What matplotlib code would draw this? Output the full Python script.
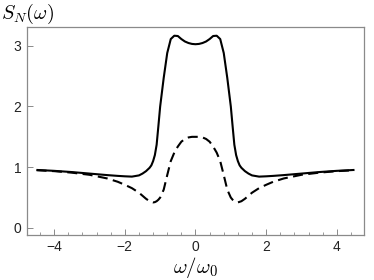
import matplotlib
matplotlib.use("Agg")
import matplotlib.pyplot as plt
from matplotlib.ticker import MultipleLocator


# values
omega = [-4.5, -4.0, -3.5, -3.0, -2.5, -2.2, -2.0, -1.8, -1.6, -1.5, -1.4, -1.3,
         -1.25, -1.2, -1.15, -1.1, -1.05, -1.0, -0.9, -0.8, -0.7, -0.6, -0.5,
         -0.4, -0.3, -0.2, -0.1, 0.0, 0.1, 0.2, 0.3, 0.4, 0.5, 0.6, 0.7, 0.8,
         0.9, 1.0, 1.05, 1.1, 1.15, 1.2, 1.25, 1.3, 1.4, 1.5, 1.6, 1.8, 2.0,
         2.2, 2.5, 3.0, 3.5, 4.0, 4.5]

s_solid = [0.955, 0.94, 0.92, 0.895, 0.87, 0.857, 0.85, 0.845, 0.865, 0.895,
           0.935, 0.99, 1.03, 1.10, 1.20, 1.37, 1.68, 2.0, 2.47, 2.88, 3.11,
           3.165, 3.16, 3.11, 3.07, 3.045, 3.03, 3.025, 3.03, 3.045, 3.07,
           3.11, 3.16, 3.165, 3.11, 2.88, 2.47, 2.0, 1.68, 1.37, 1.20, 1.10,
           1.03, 0.99, 0.935, 0.895, 0.865, 0.845, 0.85, 0.857, 0.87, 0.895,
           0.92, 0.94, 0.955]

s_dashed = [0.95, 0.935, 0.91, 0.875, 0.815, 0.76, 0.71, 0.655, 0.58, 0.53,
            0.48, 0.44, 0.43, 0.42, 0.425, 0.44, 0.465, 0.5, 0.63, 0.87, 1.1,
            1.24, 1.34, 1.42, 1.465, 1.49, 1.5, 1.5, 1.5, 1.49, 1.465, 1.42,
            1.34, 1.24, 1.1, 0.87, 0.63, 0.5, 0.465, 0.44, 0.425, 0.42, 0.43,
            0.44, 0.48, 0.53, 0.58, 0.655, 0.71, 0.76, 0.815, 0.875, 0.91,
            0.935, 0.95]

x_ticks = [-4, -2, 0, 2, 4]
y_ticks = [0, 1, 2, 3]

plt.rcParams["font.family"] = ["Liberation Sans", "DejaVu Sans"]
plt.rcParams["mathtext.fontset"] = "cm"

fig = plt.figure(figsize=(3.74, 2.80), dpi=100)
ax = fig.add_axes([0.0722, 0.161, 0.901, 0.7429])

ax.plot(omega, s_solid, color="black", lw=1.5, solid_capstyle="butt")
ax.plot(omega, s_dashed, color="black", lw=1.5, dashes=(4.8, 2.6))

ax.set_xlim(-4.77, 4.77)
ax.set_ylim(-0.115, 3.31)
ax.set_xticks(x_ticks)
ax.set_yticks(y_ticks)
ax.set_xticklabels([f"{t}".replace("-", "\u2212") for t in x_ticks])
ax.xaxis.set_minor_locator(MultipleLocator(0.4))

for side in ax.spines.values():
    side.set_color("#8a8a8a")
    side.set_linewidth(0.9)

ax.tick_params(axis="both", which="major", direction="in", length=4,
               width=0.7, color="#8a8a8a", labelsize=10, pad=4,
               labelcolor="#222222")
ax.tick_params(axis="x", which="minor", direction="in", length=2,
               width=0.6, color="#8a8a8a")

fig.text(0.004, 0.995, r"$S_N(\omega)$", fontsize=14.5, ha="left", va="top")
fig.text(0.522, 0.0, r"$\omega/\omega_0$", fontsize=15, ha="center",
         va="bottom")

fig.savefig("out.png", dpi=100)
